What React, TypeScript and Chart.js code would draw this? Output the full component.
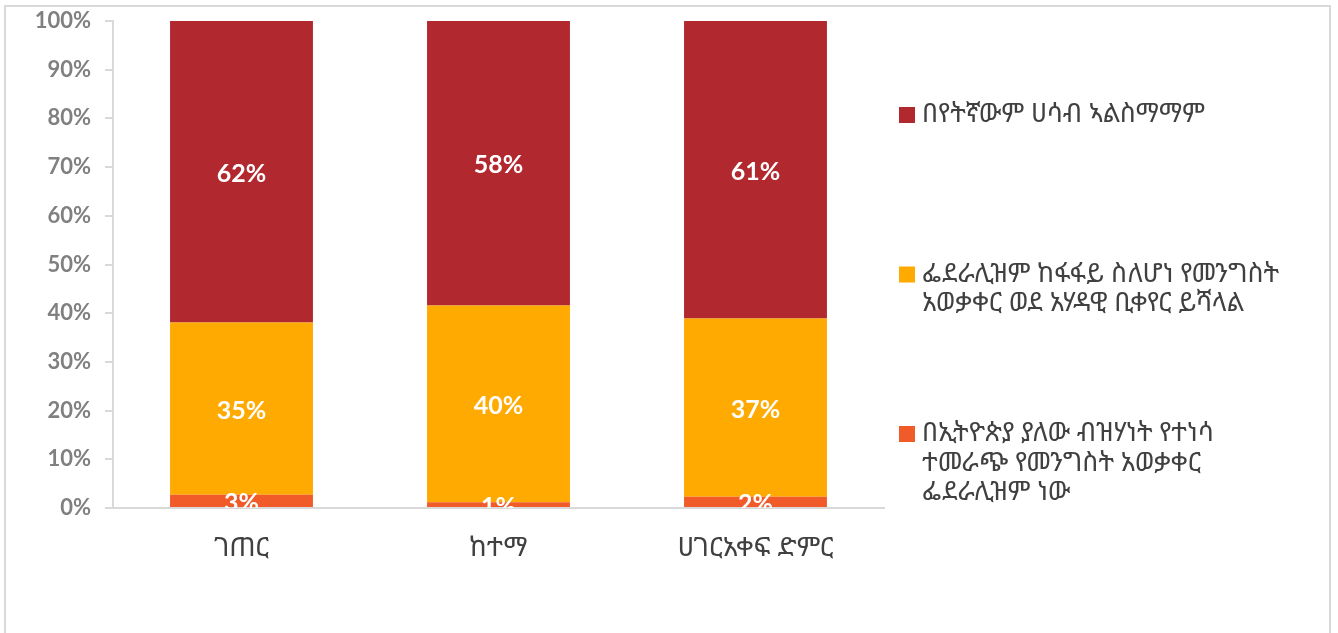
import React, { useEffect, useRef } from "react";
import { Chart, registerables } from "chart.js";

Chart.register(...registerables);

const categories = ["ገጠር", "ከተማ", "ሀገርአቀፍ ድምር"];

// Series, bottom to top of each stack
const federalismPreferred = [2.7, 1.2, 2.3];
const unitaryPreferred = [35.4, 40.4, 36.6];
const agreeWithNone = [61.9, 58.4, 61.1];

const federalismLabel = ["በኢትዮጵያ ያለው ብዝሃነት የተነሳ", "ተመራጭ የመንግስት አወቃቀር", "ፌደራሊዝም ነው"];
const unitaryLabel = ["ፌደራሊዝም ከፋፋይ ስለሆነ የመንግስት", "አወቃቀር ወደ አሃዳዊ ቢቀየር ይሻላል"];
const noneLabel = ["በየትኛውም ሀሳብ ኣልስማማም"];

const yTicks = [0, 10, 20, 30, 40, 50, 60, 70, 80, 90, 100];

const COLORS = ["#F15A29", "#FFAA00", "#B2282F"];
const ETH_FONT = "'Noto Sans Ethiopic', 'Abyssinica SIL', 'Nyala', 'DejaVu Sans', sans-serif";
const NUM_FONT = "Lato, 'DejaVu Sans', sans-serif";

const valueLabels = {
  id: "valueLabels",
  afterDatasetsDraw(chart: any) {
    const { ctx, chartArea } = chart;
    ctx.save();
    ctx.beginPath();
    ctx.rect(chartArea.left, chartArea.top, chartArea.right - chartArea.left, chartArea.bottom - chartArea.top);
    ctx.clip();
    ctx.fillStyle = "#ffffff";
    ctx.font = `bold 25px ${NUM_FONT}`;
    ctx.textAlign = "center";
    ctx.textBaseline = "middle";
    chart.data.datasets.forEach((ds: any, i: number) => {
      const meta = chart.getDatasetMeta(i);
      meta.data.forEach((bar: any, j: number) => {
        const v = ds.data[j];
        const cy = (bar.y + bar.base) / 2;
        ctx.fillText(Math.round(v) + "%", bar.x, cy + 2);
      });
    });
    ctx.restore();
  },
};

const sideLegend = {
  id: "sideLegend",
  afterDraw(chart: any) {
    const { ctx, chartArea } = chart;
    const entries = [
      { lines: noneLabel, color: COLORS[2] },
      { lines: unitaryLabel, color: COLORS[1] },
      { lines: federalismLabel, color: COLORS[0] },
    ];
    const boxX = chartArea.right + 15;
    const textX = boxX + 23;
    const firstY = chartArea.top + 93;
    const spacing = 159.5;
    const lineH = 29.5;
    ctx.save();
    ctx.font = `26px ${ETH_FONT}`;
    ctx.textAlign = "left";
    ctx.textBaseline = "middle";
    entries.forEach((e, i) => {
      const y0 = firstY + i * spacing;
      ctx.fillStyle = e.color;
      ctx.fillRect(boxX, y0 - 7, 16, 16);
      ctx.fillStyle = "#404040";
      e.lines.forEach((line, k) => {
        ctx.fillText(line, textX, y0 + 1 + k * lineH);
      });
    });
    ctx.restore();
  },
};

export default function App() {
  const ref = useRef<HTMLCanvasElement>(null);
  useEffect(() => {
    document.body.style.margin = "0";
    const chart = new Chart(ref.current!, {
      type: "bar",
      data: {
        labels: categories,
        datasets: [
          { label: federalismLabel.join(" "), data: federalismPreferred, backgroundColor: COLORS[0] },
          { label: unitaryLabel.join(" "), data: unitaryPreferred, backgroundColor: COLORS[1] },
          { label: noneLabel.join(" "), data: agreeWithNone, backgroundColor: COLORS[2] },
        ],
      },
      options: {
        responsive: false,
        animation: false,
        layout: { padding: { left: 0, right: 454, top: 21, bottom: 0 } },
        plugins: { legend: { display: false }, tooltip: { enabled: false } },
        datasets: { bar: { categoryPercentage: 1, barPercentage: 0.556 } },
        scales: {
          x: {
            stacked: true,
            grid: { display: false },
            border: { display: true, color: "#d9d9d9", width: 2 },
            ticks: { color: "#404040", font: { family: ETH_FONT, size: 27 }, padding: 16 },
            afterFit: (s: any) => {
              s.height = 125;
              s.paddingLeft = 0;
              s.paddingRight = 0;
            },
          },
          y: {
            stacked: true,
            min: 0,
            max: 100,
            afterBuildTicks: (s: any) => {
              s.ticks = yTicks.map((v) => ({ value: v }));
            },
            grid: { drawOnChartArea: false, tickLength: 8, color: "#d9d9d9", lineWidth: 2 },
            border: { display: true, color: "#d9d9d9", width: 2 },
            ticks: {
              color: "#808080",
              font: { family: NUM_FONT, size: 22, weight: "bold" },
              padding: 14,
              callback: (v: any) => v + "%",
            },
            afterFit: (s: any) => {
              s.width = 113;
              s.paddingTop = 0;
              s.paddingBottom = 0;
            },
          },
        },
      },
      plugins: [valueLabels, sideLegend],
    } as any);
    return () => chart.destroy();
  }, []);
  return (
    <div style={{ position: "relative", width: 1338, height: 633, overflow: "hidden", background: "#fff" }}>
      <div
        style={{
          position: "absolute",
          left: 4,
          top: 5,
          width: 1327,
          height: 700,
          border: "2px solid #d9d9d9",
          boxSizing: "border-box",
        }}
      />
      <canvas ref={ref} width={1338} height={633} style={{ position: "absolute", left: 0, top: 0 }} />
    </div>
  );
}
